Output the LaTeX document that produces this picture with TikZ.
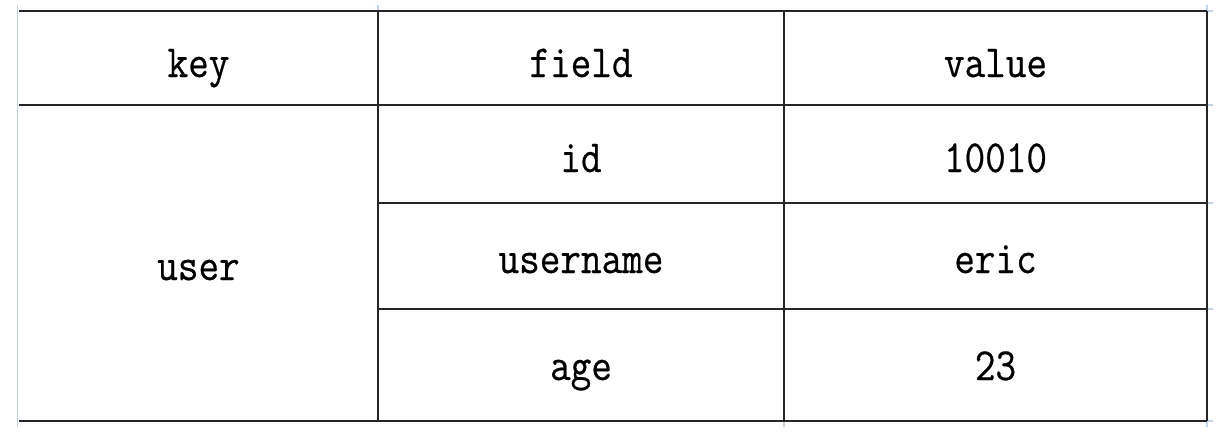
\documentclass[tikz,border=0pt]{standalone}
\usepackage{fontspec}
\newfontfamily\tabfont[FakeStretch=0.87,FakeBold=0.5]{Latin Modern Mono}
\definecolor{faintblue}{RGB}{196,212,232}
\begin{document}
\begin{tikzpicture}[x=1pt,y=-1pt,
  gridline/.style={line width=2.6pt, draw=black!85},
  faint/.style={line width=1.6pt, draw=faintblue},
  cell/.style={font=\tabfont\fontsize{46}{50}\selectfont, anchor=base, inner sep=0pt, text=black}]
\useasboundingbox (0,0) rectangle (1225,432);
% faint outline and ticks
\draw[faint] (17.3,5) -- (17.3,427);
\draw[faint] (1207,5) -- (1207,427);
\draw[faint] (378,5) -- (378,11);
\draw[faint] (784,421) -- (784,427);
\foreach \yy in {11,105,203,309,421} \draw[faint] (1207,\yy) -- (1213,\yy);
% grid
\draw[gridline] (19,11) -- (1207,11);
\draw[gridline] (19,105) -- (1207,105);
\draw[gridline] (378,203) -- (1207,203);
\draw[gridline] (378,309) -- (1207,309);
\draw[gridline] (19,421) -- (1207,421);
\draw[gridline] (378,11) -- (378,421);
\draw[gridline] (784,11) -- (784,421);
\draw[gridline] (1207,11) -- (1207,421);
% texts
\node[cell] (hkey) at (198.5,77) {key};
\node[cell] (hfield) at (581,77) {field};
\node[cell] (hvalue) at (995.5,77) {value};
\node[cell] (kuser) at (198.5,280) {user};
\node[cell] (fid) at (581,172) {id};
\node[cell] (vid) at (995.5,172) {10010};
\node[cell] (fname) at (581,273) {username};
\node[cell] (vname) at (995.5,273) {eric};
\node[cell] (fage) at (581,380) {age};
\node[cell] (vage) at (995.5,380) {23};
\end{tikzpicture}
\end{document}
